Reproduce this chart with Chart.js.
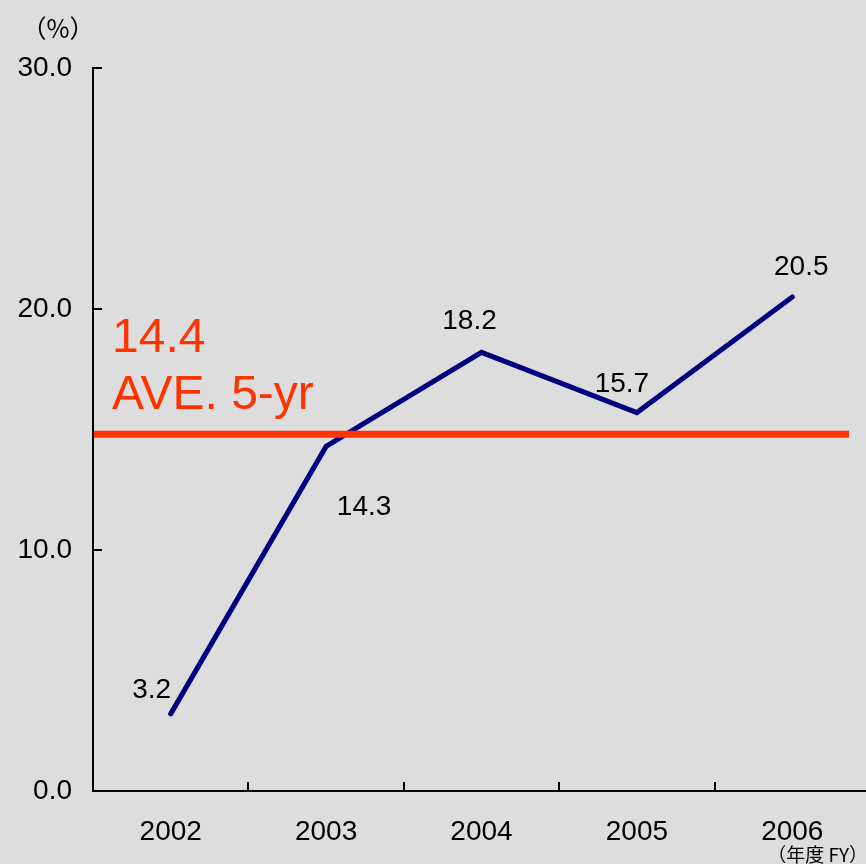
<!DOCTYPE html>
<html>
<head>
<meta charset="utf-8">
<script src="https://cdn.jsdelivr.net/npm/chart.js@4.4.0/dist/chart.umd.min.js"></script>
<style>
  html, body { margin: 0; padding: 0; background: #DDDDDD; overflow: hidden; }
  #wrap { position: relative; width: 870px; height: 864px; }
</style>
</head>
<body>
<div id="wrap"><canvas id="c" width="870" height="864"></canvas></div>
<script>
// ---- data ----
const categories = ['2002', '2003', '2004', '2005', '2006'];
const ratioValues = [3.2, 14.3, 18.2, 15.7, 20.5];
const yTickValues = [0, 10, 20, 30];
const averageLevel = 14.8;          // where the average line is drawn
const averageLabel = '14.4';
const averageCaption = 'AVE. 5-yr';
const yUnitLabel = '（%）';
const xUnitLabel = '（年度 FY）';

// ---- styles (not data) ----
const FONT = '"Liberation Sans", Arial, sans-serif';
const CJK = '"Noto Sans CJK JP", "Liberation Sans", sans-serif';
const NAVY = '#000080';
const RED = '#FF3300';
const labelOffsets = [[-19, -26], [38, 59], [-12, -33], [-15, -31], [9, -32]];

const bgPlugin = {
  id: 'bg',
  beforeDraw(chart) {
    const ctx = chart.ctx;
    ctx.save();
    ctx.fillStyle = '#DDDDDD';
    ctx.fillRect(0, 0, chart.width, chart.height);
    ctx.restore();
  }
};

const decorPlugin = {
  id: 'decor',
  afterDatasetsDraw(chart) {
    const ctx = chart.ctx;
    const x = chart.scales.x, y = chart.scales.y;
    const area = chart.chartArea;
    ctx.save();
    // inside tick marks
    ctx.strokeStyle = '#000';
    ctx.lineWidth = 2;
    ctx.beginPath();
    yTickValues.forEach(v => {
      if (v === 0) return;
      const py = Math.round(y.getPixelForValue(v));
      ctx.moveTo(area.left, py);
      ctx.lineTo(area.left + 9, py);
    });
    for (let i = 0; i < categories.length - 1; i++) {
      const px = Math.round((x.getPixelForValue(i) + x.getPixelForValue(i + 1)) / 2);
      ctx.moveTo(px, area.bottom);
      ctx.lineTo(px, area.bottom - 9);
    }
    ctx.stroke();

    // average line
    const ay = y.getPixelForValue(averageLevel);
    ctx.strokeStyle = RED;
    ctx.lineWidth = 7;
    ctx.lineCap = 'butt';
    ctx.beginPath();
    ctx.moveTo(area.left + 1, ay);
    ctx.lineTo(849, ay);
    ctx.stroke();

    // average text
    ctx.fillStyle = RED;
    ctx.font = '48px ' + FONT;
    ctx.textAlign = 'left';
    ctx.textBaseline = 'alphabetic';
    ctx.fillText(averageLabel, area.left + 19, 352);
    ctx.fillText(averageCaption, area.left + 19, 409);

    // data labels
    ctx.fillStyle = '#000';
    ctx.font = '28px ' + FONT;
    ctx.textAlign = 'center';
    const meta = chart.getDatasetMeta(0);
    meta.data.forEach((pt, i) => {
      const [dx, dy] = labelOffsets[i];
      ctx.fillText(ratioValues[i].toFixed(1), pt.x + dx, pt.y + dy + 10);
    });

    // unit labels
    ctx.font = '25px ' + CJK;
    ctx.textAlign = 'center';
    ctx.textBaseline = 'middle';
    ctx.fillText(yUnitLabel, 58, 28);
    ctx.font = '19px ' + CJK;
    ctx.textAlign = 'right';
    ctx.fillText(xUnitLabel, 868, 855);
    ctx.restore();
  }
};

new Chart(document.getElementById('c'), {
  type: 'line',
  data: {
    labels: categories,
    datasets: [{
      data: ratioValues,
      borderColor: NAVY,
      borderWidth: 5,
      pointRadius: 0,
      tension: 0,
      borderCapStyle: 'round',
      borderJoinStyle: 'miter',
      clip: false
    }]
  },
  options: {
    responsive: false,
    animation: false,
    devicePixelRatio: 1,
    layout: { padding: { top: 68, left: 0, right: 0, bottom: 0 } },
    plugins: { legend: { display: false }, tooltip: { enabled: false } },
    scales: {
      x: {
        type: 'category',
        offset: true,
        grid: { display: false, drawTicks: false, offset: true },
        border: { display: true, color: '#000', width: 2 },
        ticks: { color: '#000', font: { family: FONT, size: 28 }, padding: 24, maxRotation: 0 },
        afterFit(scale) { scale.height = 73; }
      },
      y: {
        min: 0, max: 30,
        afterBuildTicks(scale) { scale.ticks = yTickValues.map(v => ({ value: v })); },
        grid: { display: false, drawTicks: false },
        border: { display: true, color: '#000', width: 2 },
        ticks: {
          color: '#000', font: { family: FONT, size: 28 }, padding: 21,
          callback: v => Number(v).toFixed(1)
        },
        afterFit(scale) { scale.width = 93; }
      }
    }
  },
  plugins: [bgPlugin, decorPlugin]
});
</script>
</body>
</html>
